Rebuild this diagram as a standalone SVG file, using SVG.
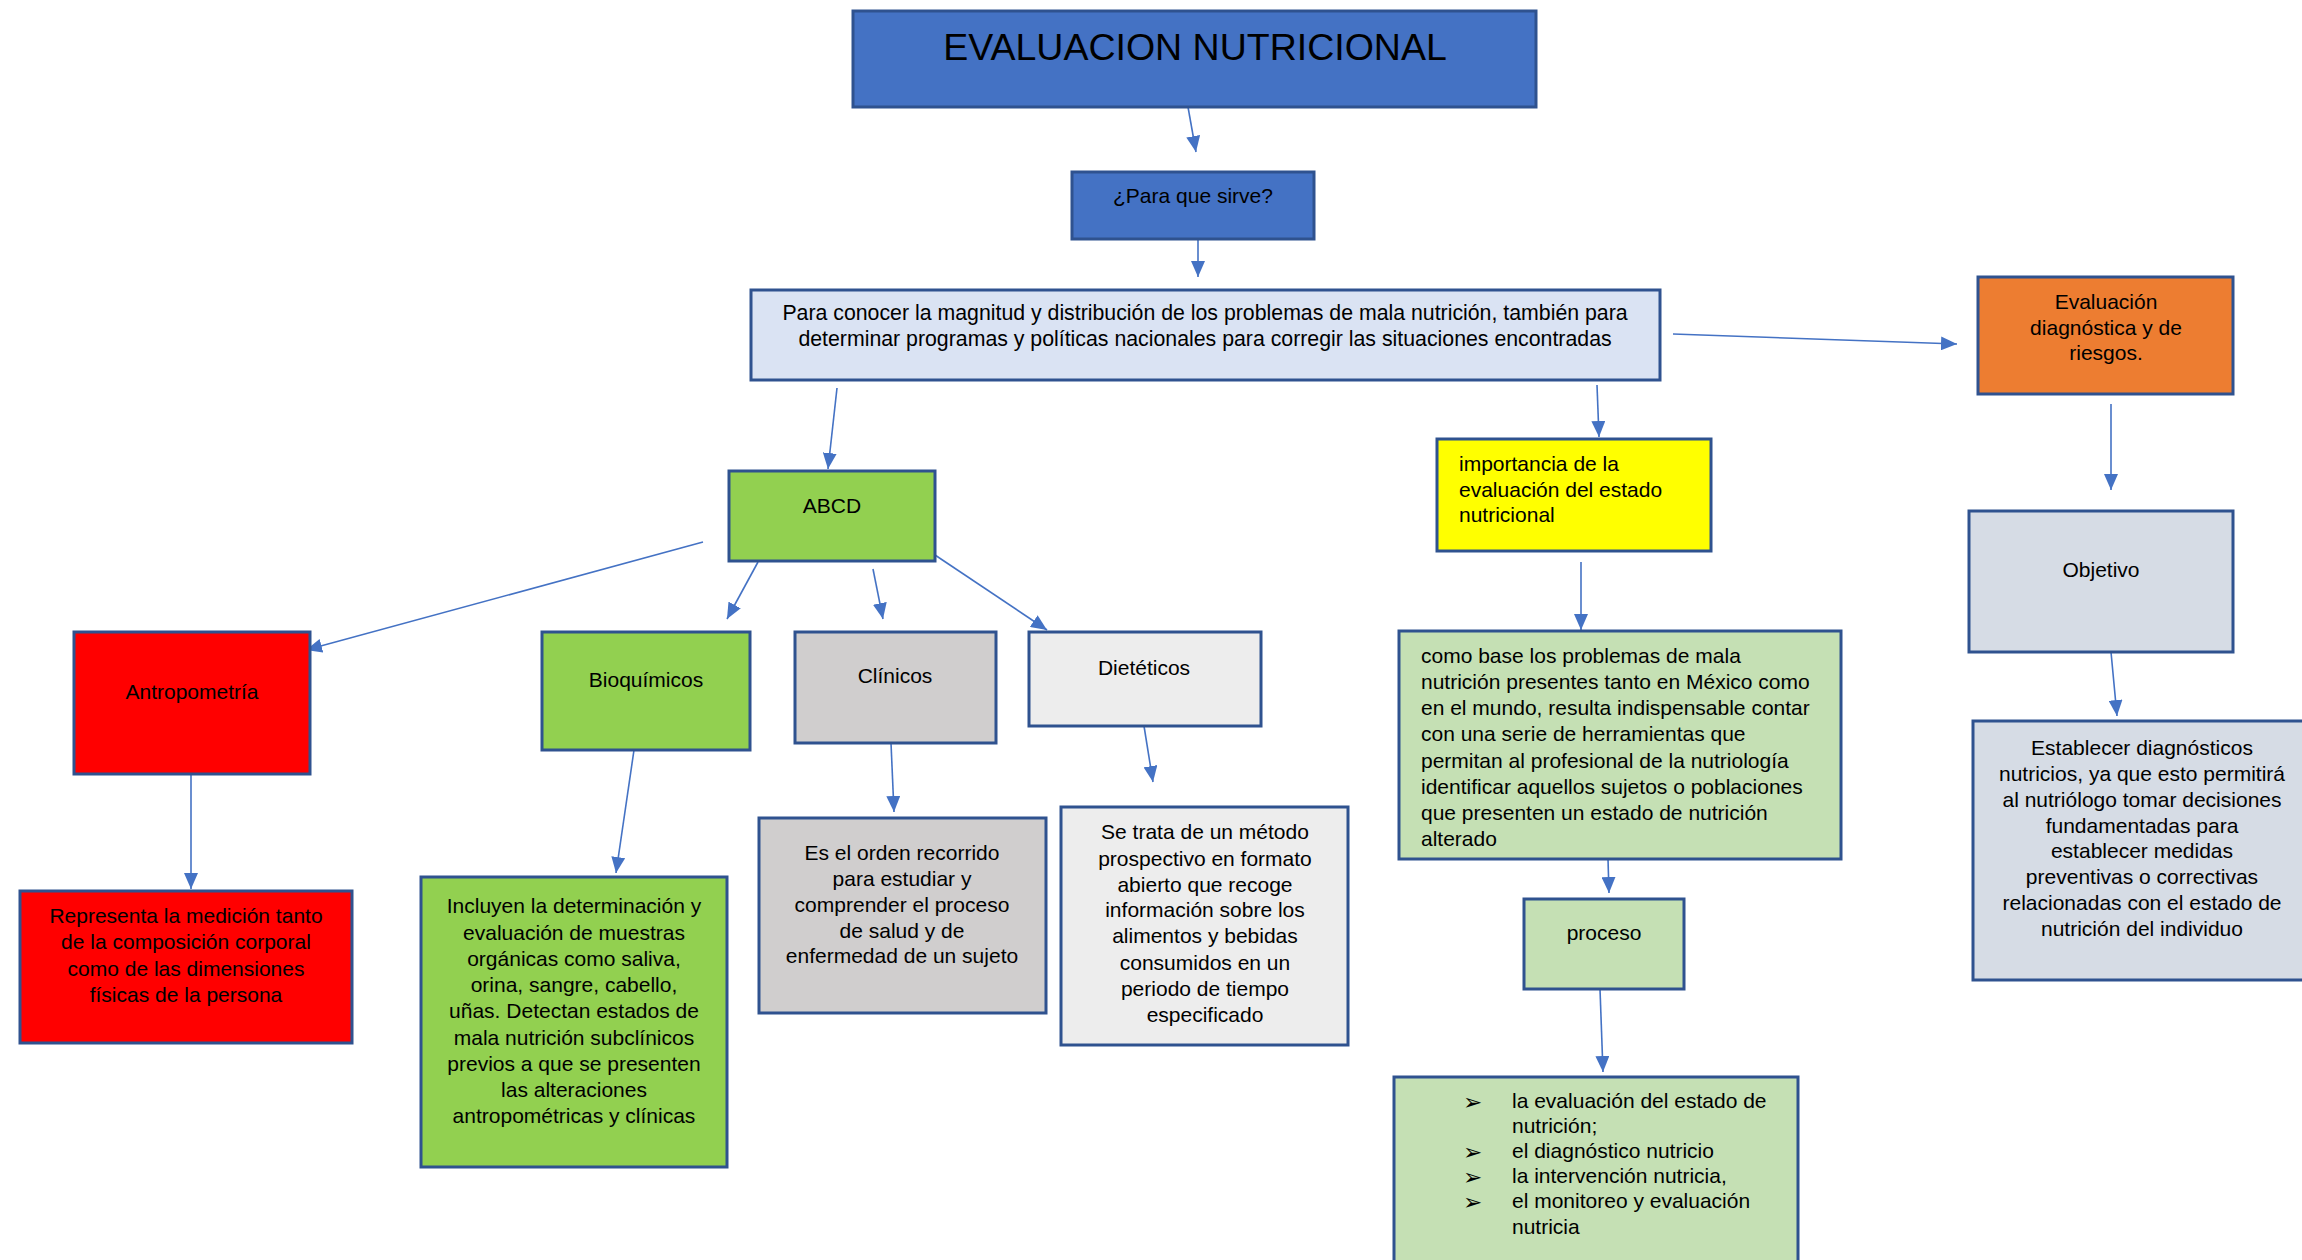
<svg xmlns="http://www.w3.org/2000/svg" width="2302" height="1260" viewBox="0 0 2302 1260">
<defs>
<marker id="ah" markerUnits="userSpaceOnUse" markerWidth="16" markerHeight="14" refX="16" refY="7" orient="auto">
<path d="M0,0 L16,7 L0,14 z" fill="#4472C4"/>
</marker>
<style>
rect{stroke:#2F528F;stroke-width:3}
text{font-family:"Liberation Sans",Arial,sans-serif;font-size:21px;fill:#000}
.c{text-anchor:middle}
.conn line{stroke:#4472C4;stroke-width:1.6;marker-end:url(#ah)}
.blt{font-family:"DejaVu Sans",sans-serif;font-size:23px}
</style>
</defs>
<rect x="0" y="0" width="2302" height="1260" fill="#fff" style="stroke:none"/>

<g class="conn" id="connectors">
<line x1="1188" y1="107" x2="1196" y2="152"/>
<line x1="1198" y1="239" x2="1198" y2="277"/>
<line x1="1673" y1="334" x2="1957" y2="344"/>
<line x1="1597" y1="385" x2="1599" y2="437"/>
<line x1="837" y1="388" x2="828" y2="469"/>
<line x1="2111" y1="404" x2="2111" y2="490"/>
<line x1="2111" y1="652" x2="2117" y2="716"/>
<line x1="1581" y1="562" x2="1581" y2="630"/>
<line x1="1608" y1="859" x2="1609" y2="893"/>
<line x1="1600" y1="989" x2="1603" y2="1072"/>
<line x1="703" y1="542" x2="306" y2="650"/>
<line x1="758" y1="562" x2="727" y2="619"/>
<line x1="873" y1="569" x2="883" y2="619"/>
<line x1="929" y1="551" x2="1047" y2="630"/>
<line x1="191" y1="774" x2="191" y2="889"/>
<line x1="634" y1="750" x2="616" y2="873"/>
<line x1="891" y1="743" x2="894" y2="812"/>
<line x1="1144" y1="726" x2="1153" y2="782"/>
</g>

<g id="title">
<rect x="853" y="11" width="683" height="96" fill="#4472C4"/>
<text class="c" x="1195" y="60" style="font-size:37.5px">EVALUACION NUTRICIONAL</text>
</g>
<g id="para-que-sirve">
<rect x="1072" y="172" width="242" height="67" fill="#4472C4"/>
<text class="c" x="1193" y="203">¿Para que sirve?</text>
</g>
<g id="para-conocer">
<rect x="751" y="290" width="909" height="90" fill="#DAE3F3"/>
<text class="c" x="1205" y="320" style="font-size:21.3px">Para conocer la magnitud y distribución de los problemas de mala nutrición, también para</text>
<text class="c" x="1205" y="346" style="font-size:21.3px">determinar programas y políticas nacionales para corregir las situaciones encontradas</text>
</g>
<g id="evaluacion-diagnostica">
<rect x="1978" y="277" width="255" height="117" fill="#ED7D31"/>
<text class="c" x="2106" y="309">Evaluación</text>
<text class="c" x="2106" y="335">diagnóstica y de</text>
<text class="c" x="2106" y="360">riesgos.</text>
</g>
<g id="objetivo">
<rect x="1969" y="511" width="264" height="141" fill="#D6DCE5"/>
<text class="c" x="2101" y="577">Objetivo</text>
</g>
<g id="establecer">
<rect x="1973" y="721" width="332" height="259" fill="#D6DCE5"/>
<text class="c" x="2142" y="755">Establecer diagnósticos</text>
<text class="c" x="2142" y="781">nutricios, ya que esto permitirá</text>
<text class="c" x="2142" y="807">al nutriólogo tomar decisiones</text>
<text class="c" x="2142" y="833">fundamentadas para</text>
<text class="c" x="2142" y="858">establecer medidas</text>
<text class="c" x="2142" y="884">preventivas o correctivas</text>
<text class="c" x="2142" y="910">relacionadas con el estado de</text>
<text class="c" x="2142" y="936">nutrición del individuo</text>
</g>
<g id="importancia">
<rect x="1437" y="439" width="274" height="112" fill="#FFFF00"/>
<text x="1459" y="471">importancia de la</text>
<text x="1459" y="497">evaluación del estado</text>
<text x="1459" y="522">nutricional</text>
</g>
<g id="como-base">
<rect x="1399" y="631" width="442" height="228" fill="#C5E0B4"/>
<text x="1421" y="663">como base los problemas de mala</text>
<text x="1421" y="689">nutrición presentes tanto en México como</text>
<text x="1421" y="715">en el mundo, resulta indispensable contar</text>
<text x="1421" y="741">con una serie de herramientas que</text>
<text x="1421" y="768">permitan al profesional de la nutriología</text>
<text x="1421" y="794">identificar aquellos sujetos o poblaciones</text>
<text x="1421" y="820">que presenten un estado de nutrición</text>
<text x="1421" y="846">alterado</text>
</g>
<g id="proceso">
<rect x="1524" y="899" width="160" height="90" fill="#C5E0B4"/>
<text class="c" x="1604" y="940">proceso</text>
</g>
<g id="proceso-lista">
<rect x="1394" y="1077" width="404" height="200" fill="#C5E0B4"/>
<text class="blt" x="1463" y="1110">➢</text>
<text class="blt" x="1463" y="1160">➢</text>
<text class="blt" x="1463" y="1185">➢</text>
<text class="blt" x="1463" y="1210">➢</text>
<text x="1512" y="1108">la evaluación del estado de</text>
<text x="1512" y="1133">nutrición;</text>
<text x="1512" y="1158">el diagnóstico nutricio</text>
<text x="1512" y="1183">la intervención nutricia,</text>
<text x="1512" y="1208">el monitoreo y evaluación</text>
<text x="1512" y="1234">nutricia</text>
</g>
<g id="abcd">
<rect x="729" y="471" width="206" height="90" fill="#92D050"/>
<text class="c" x="832" y="513">ABCD</text>
</g>
<g id="antropometria">
<rect x="74" y="632" width="236" height="142" fill="#FF0000"/>
<text class="c" x="192" y="699">Antropometría</text>
</g>
<g id="bioquimicos">
<rect x="542" y="632" width="208" height="118" fill="#92D050"/>
<text class="c" x="646" y="687">Bioquímicos</text>
</g>
<g id="clinicos">
<rect x="795" y="632" width="201" height="111" fill="#D0CECE"/>
<text class="c" x="895" y="683">Clínicos</text>
</g>
<g id="dieteticos">
<rect x="1029" y="632" width="232" height="94" fill="#EDEDED"/>
<text class="c" x="1144" y="675">Dietéticos</text>
</g>
<g id="representa">
<rect x="20" y="891" width="332" height="152" fill="#FF0000"/>
<text class="c" x="186" y="923">Representa la medición tanto</text>
<text class="c" x="186" y="949">de la composición corporal</text>
<text class="c" x="186" y="976">como de las dimensiones</text>
<text class="c" x="186" y="1002">físicas de la persona</text>
</g>
<g id="incluyen">
<rect x="421" y="877" width="306" height="290" fill="#92D050"/>
<text class="c" x="574" y="913">Incluyen la determinación y</text>
<text class="c" x="574" y="940">evaluación de muestras</text>
<text class="c" x="574" y="966">orgánicas como saliva,</text>
<text class="c" x="574" y="992">orina, sangre, cabello,</text>
<text class="c" x="574" y="1018">uñas. Detectan estados de</text>
<text class="c" x="574" y="1045">mala nutrición subclínicos</text>
<text class="c" x="574" y="1071">previos a que se presenten</text>
<text class="c" x="574" y="1097">las alteraciones</text>
<text class="c" x="574" y="1123">antropométricas y clínicas</text>
</g>
<g id="es-el-orden">
<rect x="759" y="818" width="287" height="195" fill="#D0CECE"/>
<text class="c" x="902" y="860">Es el orden recorrido</text>
<text class="c" x="902" y="886">para estudiar y</text>
<text class="c" x="902" y="912">comprender el proceso</text>
<text class="c" x="902" y="938">de salud y de</text>
<text class="c" x="902" y="963">enfermedad de un sujeto</text>
</g>
<g id="se-trata">
<rect x="1061" y="807" width="287" height="238" fill="#EDEDED"/>
<text class="c" x="1205" y="839">Se trata de un método</text>
<text class="c" x="1205" y="866">prospectivo en formato</text>
<text class="c" x="1205" y="892">abierto que recoge</text>
<text class="c" x="1205" y="917">información sobre los</text>
<text class="c" x="1205" y="943">alimentos y bebidas</text>
<text class="c" x="1205" y="970">consumidos en un</text>
<text class="c" x="1205" y="996">periodo de tiempo</text>
<text class="c" x="1205" y="1022">especificado</text>
</g>
</svg>
